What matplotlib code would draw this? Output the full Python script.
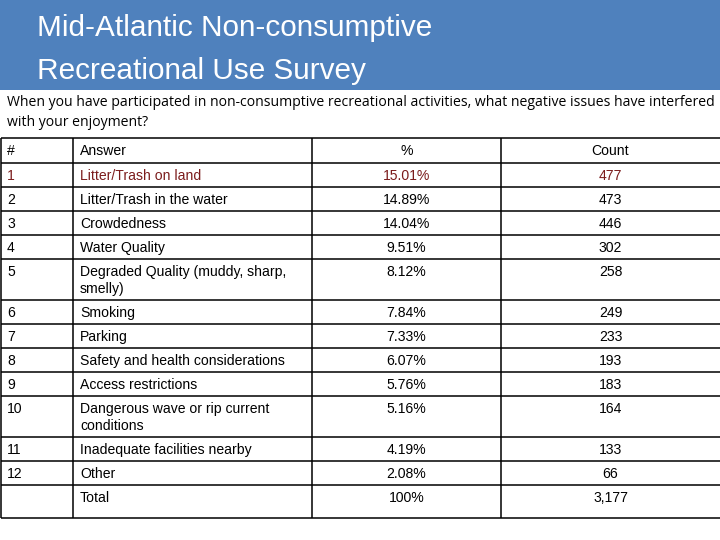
import matplotlib
matplotlib.use("Agg")
import matplotlib.pyplot as plt

title_lines = ["Mid-Atlantic Non-consumptive", "Recreational Use Survey"]
question_lines = [
    "When you have participated in non-consumptive recreational activities, what negative issues have interfered",
    "with your enjoyment?",
]
headers = ["#", "Answer", "%", "Count"]
numbers = ["1", "2", "3", "4", "5", "6", "7", "8", "9", "10", "11", "12", ""]
answers = [
    "Litter/Trash on land",
    "Litter/Trash in the water",
    "Crowdedness",
    "Water Quality",
    "Degraded Quality (muddy, sharp,\nsmelly)",
    "Smoking",
    "Parking",
    "Safety and health considerations",
    "Access restrictions",
    "Dangerous wave or rip current\nconditions",
    "Inadequate facilities nearby",
    "Other",
    "Total",
]
percents = ["15.01%", "14.89%", "14.04%", "9.51%", "8.12%", "7.84%", "7.33%",
            "6.07%", "5.76%", "5.16%", "4.19%", "2.08%", "100%"]
counts = ["477", "473", "446", "302", "258", "249", "233", "193", "183",
          "164", "133", "66", "3,177"]

W, H = 720, 540
fig = plt.figure(figsize=(7.2, 5.4), dpi=100)
ax = fig.add_axes([0, 0, 1, 1])
ax.set_xlim(0, W)
ax.set_ylim(H, 0)
ax.axis("off")

blue = "#4F81BD"
ax.add_patch(plt.Rectangle((0, 0), W, 90, color=blue, lw=0))

ax.text(37, 28, title_lines[0], color="white", fontsize=21.4,
        family="Liberation Sans", va="center", ha="left")
ax.text(37, 71, title_lines[1], color="white", fontsize=21.4,
        family="Liberation Sans", va="center", ha="left")

ax.text(7, 103, question_lines[0], fontsize=10.1, family="Open Sans",
        va="center", ha="left", color="black")
ax.text(7, 122, question_lines[1], fontsize=10.1, family="Open Sans",
        va="center", ha="left", color="black")

# table layout (right border lies just beyond the slide edge)
col_x = [1, 73, 312, 501, 723]
top = 138
header_h = 25
row_h = [24, 24, 24, 24, 41, 24, 24, 24, 24, 41, 24, 24, 33]
bounds = [top, top + header_h]
for h in row_h:
    bounds.append(bounds[-1] + h)

ax.hlines(bounds, col_x[0], col_x[-1], colors="black", lw=1.1)
ax.vlines(col_x, bounds[0], bounds[-1], colors="black", lw=1.1)

fs = 10.1
fam = "Liberation Sans"
pct_c = (col_x[2] + col_x[3]) / 2
cnt_c = 610.5
base_off = 17
line_gap = 17

hy = top + base_off
ax.text(7, hy, headers[0], fontsize=fs, family=fam, va="baseline", ha="left")
ax.text(80, hy, headers[1], fontsize=fs, family=fam, va="baseline", ha="left")
ax.text(pct_c, hy, headers[2], fontsize=fs, family=fam, va="baseline", ha="center")
ax.text(cnt_c, hy, headers[3], fontsize=fs, family=fam, va="baseline", ha="center")

for i in range(len(answers)):
    yb = bounds[i + 1] + base_off
    col = "#7B1C1C" if i == 0 else "black"
    ax.text(7, yb, numbers[i], fontsize=fs, family=fam, va="baseline",
            ha="left", color=col)
    for k, line in enumerate(answers[i].split("\n")):
        ax.text(80, yb + k * line_gap, line, fontsize=fs, family=fam,
                va="baseline", ha="left", color=col)
    ax.text(pct_c, yb, percents[i], fontsize=fs, family=fam,
            va="baseline", ha="center", color=col)
    ax.text(cnt_c, yb, counts[i], fontsize=fs, family=fam,
            va="baseline", ha="center", color=col)

fig.savefig("out.png", dpi=100, facecolor="white")
